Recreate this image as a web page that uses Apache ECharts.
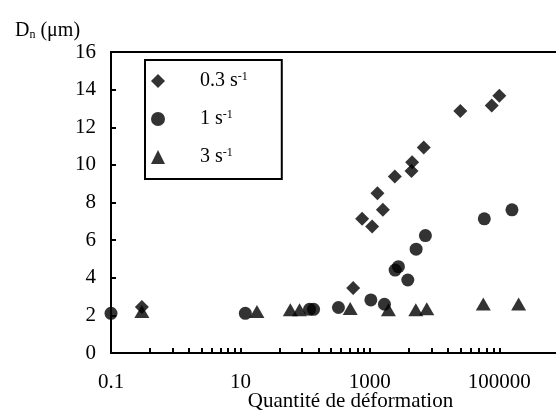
<!DOCTYPE html>
<html>
<head>
<meta charset="utf-8">
<script src="https://cdn.jsdelivr.net/npm/echarts@6/dist/echarts.min.js"></script>
<style>
  html, body { margin: 0; padding: 0; background: #fff; }
  #chart { width: 556px; height: 413px; }
</style>
</head>
<body>
<div id="chart"></div>
<script>
const FONT = '"Liberation Serif", "Times New Roman", serif';

// x = quantité de déformation, y = Dn (µm)
const rate03 = [
  [0.3, 2.45], [552, 3.46], [760, 7.13], [1084, 6.72], [1310, 8.49],
  [1588, 7.61], [2432, 9.38], [4400, 9.68], [4500, 10.14], [6810, 10.92],
  [25000, 12.87], [76400, 13.15], [100000, 13.67]
];
const rate1 = [
  [0.1, 2.11], [11.9, 2.11], [117, 2.32], [135, 2.32], [327, 2.42],
  [1036, 2.82], [1680, 2.59], [2455, 4.41], [2762, 4.59], [3857, 3.88],
  [5185, 5.52], [7215, 6.24], [58700, 7.13], [157000, 7.61]
];
const rate3 = [
  [0.3, 2.2], [18, 2.2], [59, 2.3], [82, 2.3], [497, 2.37],
  [1936, 2.3], [5129, 2.3], [7580, 2.35], [56600, 2.6], [199000, 2.6]
];

const seriesNames = ['0.3', '1', '3'];
const xLabels = [0.1, 10, 1000, 100000];

// minor ticks inside each 100x step, like the original spreadsheet axis
const xTicks = [];
xLabels.forEach((m, i) => {
  if (i === xLabels.length - 1) { xTicks.push(m); return; }
  for (let k = 1; k <= 10; k++) xTicks.push(+(m * k * k).toPrecision(6));
});

const chart = echarts.init(document.getElementById('chart'));

const option = {
  backgroundColor: '#fff',
  animation: false,
  title: {
    left: 10,
    top: 16,
    text: '{a|D}{s|n}{a| (μm)}',
    textStyle: {
      fontWeight: 'normal',
      rich: {
        a: { fontFamily: FONT, fontSize: 20, fontWeight: 'normal', color: '#000' },
        s: { fontFamily: FONT, fontSize: 12, fontWeight: 'normal', color: '#000', verticalAlign: 'bottom', padding: [5, 0, 0, 0] }
      }
    }
  },
  legend: {
    orient: 'vertical',
    left: 145,
    top: 60,
    padding: [11, 34, 12, 6],
    itemWidth: 14,
    itemHeight: 14,
    itemGap: 18,
    borderColor: '#000',
    borderWidth: 2,
    data: seriesNames,
    formatter: (name) => '{b|' + name + ' s}{sup|-1}',
    textStyle: {
      rich: {
        b: { fontFamily: FONT, fontSize: 20, color: '#000', padding: [0, 0, 0, 30], lineHeight: 20 },
        sup: { fontFamily: FONT, fontSize: 12, color: '#000', verticalAlign: 'top', lineHeight: 20 }
      }
    }
  },
  grid: {
    left: 111,
    right: -8,
    top: 52,
    bottom: 60,
    show: true,
    borderColor: '#000',
    borderWidth: 2,
    containLabel: false,
    outerBoundsMode: 'none'
  },
  xAxis: {
    type: 'log',
    logBase: 10,
    min: 0.1,
    max: 1000000,
    name: 'Quantité de déformation',
    nameLocation: 'middle',
    nameGap: 38,
    nameMoveOverlap: false,
    nameTextStyle: { fontFamily: FONT, fontSize: 21, color: '#000', padding: [0, 0, 0, 26] },
    axisLine: { show: true, lineStyle: { color: '#000', width: 2 } },
    axisTick: { show: true, inside: true, length: 5, lineStyle: { color: '#000', width: 2 }, customValues: xTicks },
    minorTick: { show: false },
    splitLine: { show: false },
    axisLabel: {
      customValues: xLabels,
      formatter: (v) => String(+v.toPrecision(6)),
      fontFamily: FONT,
      fontSize: 21,
      color: '#000',
      margin: 19
    }
  },
  yAxis: {
    type: 'value',
    min: 0,
    max: 16,
    interval: 2,
    axisLine: { show: true, lineStyle: { color: '#000', width: 2 } },
    axisTick: { show: true, inside: true, length: 5, lineStyle: { color: '#000', width: 2 } },
    splitLine: { show: false },
    axisLabel: { fontFamily: FONT, fontSize: 21, color: '#000', margin: 15 }
  },
  series: [
    {
      name: '0.3',
      type: 'scatter',
      symbol: 'diamond',
      symbolSize: 14,
      itemStyle: { color: '#000' },
      data: rate03
    },
    {
      name: '1',
      type: 'scatter',
      symbol: 'circle',
      symbolSize: 13,
      itemStyle: { color: '#000' },
      data: rate1
    },
    {
      name: '3',
      type: 'scatter',
      symbol: 'triangle',
      symbolSize: [15, 13],
      itemStyle: { color: '#000' },
      data: rate3
    }
  ]
};

chart.setOption(option);
</script>
</body>
</html>
